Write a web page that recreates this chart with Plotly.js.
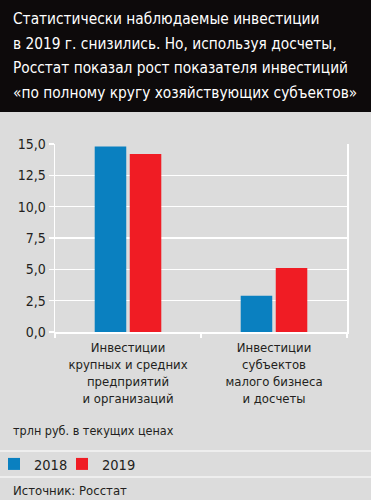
<!DOCTYPE html>
<html>
<head>
<meta charset="utf-8">
<script src="https://cdn.plot.ly/plotly-3.0.1.min.js"></script>
<style>
html,body{margin:0;padding:0;background:#dcdcdc;}
#chart{width:371px;height:500px;}
</style>
</head>
<body>
<div id="chart"></div>
<script>
// Data
var categories = ["cat1", "cat2"];
var categoryLabels = [
  "Инвестиции<br>крупных и средних<br>предприятий<br>и организаций",
  "Инвестиции<br>субъектов<br>малого бизнеса<br>и досчеты"
];
var seriesNames = ["2018", "2019"];
var values2018 = [14.8, 2.9];
var values2019 = [14.2, 5.1];
var yTicks = [0, 2.5, 5, 7.5, 10, 12.5, 15];

var titleLines = [
  "Статистически наблюдаемые инвестиции",
  "в 2019 г. снизились. Но, используя досчеты,",
  "Росстат показал рост показателя инвестиций",
  "«по полному кругу хозяйствующих субъектов»"
];
var unitText = "трлн руб. в текущих ценах";
var sourceText = "Источник: Росстат";

var FONT = "'DejaVu Sans Condensed', 'Liberation Sans Narrow', sans-serif";
var TXT = "#231f20";
var BG = "#dcdcdc";

var traces = [
  {type: "bar", name: seriesNames[0], x: categories, y: values2018,
   marker: {color: "#0a80c0"}, hoverinfo: "y", legend: "legend"},
  {type: "bar", name: seriesNames[1], x: categories, y: values2019,
   marker: {color: "#f01c24"}, hoverinfo: "y", legend: "legend2"}
];

// pixel -> paper helpers (plot area: x 55..347, y 144..332)
var L = 55, R = 24, T = 144, B = 168, W = 371, H = 500;
var pw = W - L - R, ph = H - T - B;
function px(x) { return (x - L) / pw; }
function py(y) { return (H - B - y) / ph; }

var titleCenters = [19.4, 43.8, 68.2, 92.6];
var annotations = titleLines.map(function (t, i) {
  return {xref: "paper", yref: "paper", x: px(11), y: py(titleCenters[i]),
          xanchor: "left", yanchor: "middle", align: "left", showarrow: false,
          text: t, font: {family: FONT, size: 15.3, color: "#ffffff"}};
});
annotations.push(
  {xref: "paper", yref: "paper", x: px(11), y: py(430), xanchor: "left", yanchor: "middle",
   align: "left", showarrow: false, text: unitText,
   font: {family: FONT, size: 12.5, color: TXT}},
  {xref: "paper", yref: "paper", x: px(11), y: py(490), xanchor: "left", yanchor: "middle",
   align: "left", showarrow: false, text: sourceText,
   font: {family: FONT, size: 13, color: TXT}}
);

function legendAt(xPix) {
  return {orientation: "h", xref: "paper", yref: "paper",
          x: px(xPix), xanchor: "left", y: py(464), yanchor: "middle",
          font: {family: FONT, size: 14.5, color: TXT}, bgcolor: "rgba(0,0,0,0)",
          itemwidth: 30};
}

var layout = {
  width: W, height: H,
  margin: {l: L, r: R, t: T, b: B, pad: 0, autoexpand: false},
  paper_bgcolor: BG, plot_bgcolor: BG,
  separators: ", ",
  font: {family: FONT, color: TXT, size: 13},
  barmode: "group",
  bargap: 0.52,
  bargroupgap: 0.1,
  showlegend: true,
  legend: legendAt(-6),
  legend2: legendAt(62),
  xaxis: {
    type: "category", tickvals: categories, ticktext: categoryLabels,
    showgrid: false, showline: true, linecolor: "#ffffff", linewidth: 1.5,
    ticks: "outside", tickson: "boundaries", ticklen: 4, tickcolor: "#ffffff", tickwidth: 1.5,
    ticklabelstandoff: 3,
    tickfont: {family: FONT, size: 13, color: TXT}, zeroline: false, fixedrange: true
  },
  yaxis: {
    range: [0, 15], tickvals: yTicks, tickformat: ".1f",
    showgrid: true, gridcolor: "#ffffff", gridwidth: 1.5,
    showline: true, mirror: true, linecolor: "#ffffff", linewidth: 1.5,
    ticks: "outside", ticklen: 5, tickcolor: "#ffffff", tickwidth: 1.5,
    tickfont: {family: FONT, size: 14, color: TXT}, zeroline: false, fixedrange: true
  },
  shapes: [
    {type: "rect", xref: "paper", yref: "paper", x0: px(-5), x1: px(380), y0: py(112), y1: py(-5),
     fillcolor: "#0d0a0b", line: {width: 0}, layer: "below"},
    {type: "line", xref: "paper", yref: "paper", x0: px(0), x1: px(371), y0: py(451), y1: py(451),
     line: {color: "#f4f4f4", width: 1.5}},
    {type: "line", xref: "paper", yref: "paper", x0: px(0), x1: px(371), y0: py(477), y1: py(477),
     line: {color: "#f4f4f4", width: 1.5}}
  ],
  annotations: annotations
};

Plotly.newPlot("chart", traces, layout, {displayModeBar: false, staticPlot: true});
</script>
</body>
</html>
